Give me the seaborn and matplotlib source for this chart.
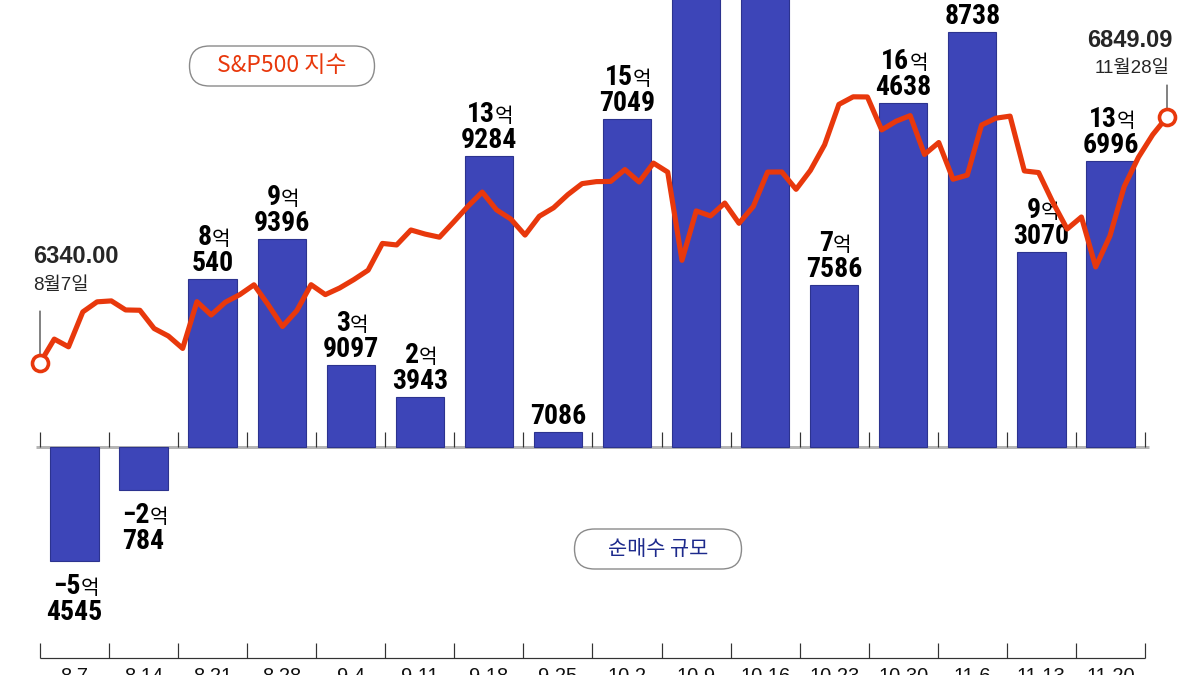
import os
import numpy as np
import pandas as pd
import matplotlib
matplotlib.use("Agg")
import matplotlib.pyplot as plt
import seaborn as sns
from matplotlib import font_manager as fm
from matplotlib.font_manager import FontProperties
from matplotlib.patches import FancyBboxPatch

# ---------------- data ----------------
weeks = ['8.7', '8.14', '8.21', '8.28', '9.4', '9.11', '9.18', '9.25',
         '10.2', '10.9', '10.16', '10.23', '10.30', '11.6', '11.13', '11.20']
# weekly net purchase (unit: 억 달러); 10.9 and 10.16 run off the top of the picture (estimated)
net_buy = [-5.4545, -2.0784, 8.0540, 9.9396, 3.9097, 2.3943, 13.9284, 0.7086,
           15.7049, 24.0, 25.5, 7.7586, 16.4638, 19.8738, 9.3070, 13.6996]

# S&P 500 daily close, Aug 7 -> Nov 28
sp500 = [6340.00, 6389.45,
         6373.45, 6445.76, 6466.58, 6468.54, 6449.80,
         6449.15, 6411.37, 6395.78, 6370.17, 6466.91,
         6439.32, 6465.94, 6481.40, 6501.86, 6460.26,
         6415.54, 6448.26, 6502.08, 6481.50,
         6495.15, 6512.61, 6532.04, 6587.47, 6584.29,
         6615.28, 6606.76, 6600.35, 6631.96, 6664.36,
         6693.75, 6656.92, 6637.97, 6604.72, 6643.70,
         6661.21, 6688.46, 6711.20, 6715.35, 6715.79,
         6740.28, 6714.59, 6753.72, 6735.11, 6552.51,
         6654.72, 6644.31, 6671.06, 6629.07, 6664.01,
         6735.13, 6735.35, 6699.40, 6738.44, 6791.69,
         6875.16, 6890.89, 6890.59, 6822.34, 6840.20,
         6851.97, 6771.55, 6796.29, 6720.32, 6728.80,
         6832.43, 6846.61, 6850.92, 6737.49, 6734.11,
         6672.41, 6617.32, 6642.16, 6538.76, 6602.99,
         6705.12, 6765.88, 6812.61, 6849.09]
start_label = ['6340.00', '8월7일']
end_label = ['6849.09', '11월28일']
legend_sp = 'S&P500 지수'
legend_bar = '순매수 규모'

# ---------------- style ----------------
sns.set_theme(style='white')
KR = 'Noto Sans CJK KR'
plt.rcParams['font.family'] = ['Liberation Sans', KR, 'DejaVu Sans']

# look for a genuinely narrow bold face for the bar numbers
def find_font(pats):
    files = [f.fname for f in fm.fontManager.ttflist]
    try:
        files += fm.findSystemFonts()
    except Exception:
        pass
    for p in pats:
        for f in files:
            if os.path.basename(f).startswith(p):
                return f
    return None

nb = find_font(['LiberationSansNarrow-Bold.', 'RobotoCondensed-Bold.', 'NotoSans-CondensedBold.'])
if nb:
    NUMB = FontProperties(fname=nb)
    NUM_SIZE = 20
else:
    NUMB = FontProperties(family='Liberation Sans', weight='bold')
    NUM_SIZE = 18.5

BAR = '#3d45b8'
BAR_EDGE = '#2c338f'
RED = '#e8380c'
NAVY = '#1d2a8c'

W, H, DPI = 1200, 675, 100
PX = 72 / DPI  # points per pixel

# pixel geometry of the reference
X0, STEP = 40, 69.06       # left boundary of first week slot, slot width (px)
Y0, BPX = 447, 20.9        # zero line y (px from top), px per 억
LX0, LX1 = 40, 1167        # first / last S&P point x (px)
LY0 = 363                  # y of first S&P point
LSLOPE = (363 - 117) / (sp500[-1] - sp500[0])  # px per index point

fig = plt.figure(figsize=(W / DPI, H / DPI), dpi=DPI)
fig.patch.set_facecolor('white')

# ---------- bar axes ----------
ax = fig.add_axes([0, 0, 1, 1])
df = pd.DataFrame({'week': weeks, 'value': net_buy})
sns.barplot(data=df, x='week', y='value', order=weeks, color=BAR, saturation=1,
            width=0.7, edgecolor=BAR_EDGE, linewidth=0.8, ax=ax, zorder=2)
ax.set_xlim(-0.5 - X0 / STEP, -0.5 + (W - X0) / STEP)
ytop = Y0 / BPX
ax.set_ylim(-(H - Y0) / BPX, ytop)
ax.axis('off')

n = len(weeks)
bounds = np.arange(n + 1) - 0.5
# zero line with small ticks
ax.hlines(0, bounds[0] - 4 / STEP, bounds[-1] + 4 / STEP, color='#b5b5b5', lw=3 * PX, zorder=1)
ax.vlines(bounds, 0, 15 / BPX, color='#333333', lw=1.2 * PX, zorder=1)
# bottom axis
yb = -(658 - Y0) / BPX
ax.hlines(yb, bounds[0], bounds[-1], color='#333333', lw=1.2 * PX, zorder=1)
ax.vlines(bounds, yb, yb + 15 / BPX, color='#333333', lw=1.2 * PX, zorder=1)
for i, w in enumerate(weeks):
    ax.text(i, -(667 - Y0) / BPX, w, ha='center', va='top', fontsize=14.5,
            family=['Liberation Sans'], color='#111111')

# bar value labels: "N억" over the remainder, drawn as chained annotations
PITCH = 26
for i, v in enumerate(net_buy):
    if v > ytop:
        continue  # label lies entirely above the picture
    man = int(round(abs(v) * 10000))
    eok, rest = divmod(man, 10000)
    sign = '\u2212' if v < 0 else ''
    if v >= 0:
        base2 = 8
        base1 = base2 + PITCH
    else:
        base1 = -33
        base2 = base1 - PITCH
    if eok:
        t1 = ax.annotate(f'{sign}{eok}', xy=(i, v), xytext=(-8, base1), textcoords='offset pixels',
                         ha='center', va='baseline', fontproperties=NUMB, color='black',
                         annotation_clip=False)
        t1.set_fontsize(NUM_SIZE)
        ax.annotate('억', xy=(1, v), xycoords=(t1, 'data'), xytext=(0, base1),
                    textcoords='offset pixels', ha='left', va='baseline',
                    family=[KR], fontsize=14.5, color='black', annotation_clip=False)
        t2 = ax.annotate(str(rest), xy=(i, v), xytext=(0, base2), textcoords='offset pixels',
                         ha='center', va='baseline', fontproperties=NUMB, color='black',
                         annotation_clip=False)
        t2.set_fontsize(NUM_SIZE)
    else:
        t2 = ax.annotate(f'{sign}{rest}', xy=(i, v), xytext=(0, base2 if v < 0 else 8),
                         textcoords='offset pixels', ha='center', va='baseline',
                         fontproperties=NUMB, color='black', annotation_clip=False)
        t2.set_fontsize(NUM_SIZE)

# ---------- S&P 500 line axes ----------
ax2 = fig.add_axes([0, 0, 1, 1])
ax2.patch.set_alpha(0)
idx = np.arange(len(sp500))
sns.lineplot(x=idx, y=sp500, ax=ax2, color=RED, lw=3.7, zorder=5)
ax2.plot([idx[0], idx[-1]], [sp500[0], sp500[-1]], 'o', ms=16 * PX, mfc='white',
         mec=RED, mew=2.6, zorder=6)
dx = (LX1 - LX0) / (len(sp500) - 1)
ax2.set_xlim(-LX0 / dx, (len(sp500) - 1) + (W - LX1) / dx)
ax2.set_ylim(sp500[0] - (H - LY0) / LSLOPE, sp500[0] + LY0 / LSLOPE)
ax2.axis('off')

# start / end annotations
ax2.annotate('', xy=(idx[0], sp500[0]), xytext=(0, 52), textcoords='offset pixels',
             arrowprops=dict(arrowstyle='-', lw=0.8, color='#222222', shrinkA=0, shrinkB=6))
ax2.annotate(start_label[0], xy=(idx[0], sp500[0]), xytext=(-7, 100), textcoords='offset pixels',
             ha='left', va='baseline', fontsize=17, fontweight='bold', family=['Liberation Sans'])
ax2.annotate(start_label[1], xy=(idx[0], sp500[0]), xytext=(-7, 73), textcoords='offset pixels',
             ha='left', va='baseline', fontsize=13.5, family=['Liberation Sans', KR])
ax2.annotate('', xy=(idx[-1], sp500[-1]), xytext=(0, 32), textcoords='offset pixels',
             arrowprops=dict(arrowstyle='-', lw=0.8, color='#222222', shrinkA=0, shrinkB=6.5))
ax2.annotate(end_label[0], xy=(idx[-1], sp500[-1]), xytext=(5, 70), textcoords='offset pixels',
             ha='right', va='baseline', fontsize=17, fontweight='bold', family=['Liberation Sans'])
ax2.annotate(end_label[1], xy=(idx[-1], sp500[-1]), xytext=(3, 44), textcoords='offset pixels',
             ha='right', va='baseline', fontsize=13.5, family=['Liberation Sans', KR])

# ---------- legend pills (pixel overlay) ----------
ax3 = fig.add_axes([0, 0, 1, 1])
ax3.patch.set_alpha(0)
ax3.set_xlim(0, W)
ax3.set_ylim(H, 0)
ax3.axis('off')

def pill(cx, cy, w, h, text, color, fs):
    p = FancyBboxPatch((cx - w / 2, cy - h / 2), w, h,
                       boxstyle=f'round,pad=0,rounding_size={h / 2}',
                       fc='white', ec='#8a8a8a', lw=1.0, zorder=7)
    ax3.add_patch(p)
    ax3.text(cx, cy, text, ha='center', va='center', color=color, fontsize=fs,
             family=[KR, 'DejaVu Sans'], zorder=8)

pill(282, 66, 185, 40, legend_sp, RED, 16.5)
pill(658, 549, 167, 40, legend_bar, NAVY, 15)

fig.savefig('out.png', dpi=DPI, facecolor='white')
